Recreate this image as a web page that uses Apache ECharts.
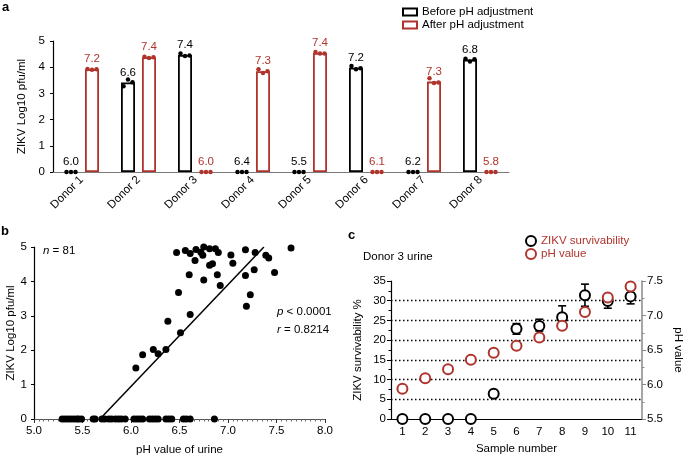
<!DOCTYPE html>
<html>
<head>
<meta charset="utf-8">
<script src="https://cdn.jsdelivr.net/npm/echarts@6/dist/echarts.min.js"></script>
<style>
  html, body { margin: 0; padding: 0; background: #fff; }
  #chart { width: 685px; height: 455px; }
</style>
</head>
<body>
<div id="chart"></div>
<script>
  // ---- panel a: virus titre per donor, before / after pH adjustment
  const donors = ['Donor 1', 'Donor 2', 'Donor 3', 'Donor 4', 'Donor 5', 'Donor 6', 'Donor 7', 'Donor 8'];
  const beforeMean = [0, 3.42, 4.47, 0, 0, 3.98, 0, 4.29];
  const afterMean = [3.92, 4.38, 0, 3.85, 4.54, 0, 3.45, 0];
  const beforeRep1 = [0, 3.27, 4.52, 0, 0, 4.05, 0, 4.32];
  const beforeRep2 = [0, 3.53, 4.43, 0, 0, 3.92, 0, 4.22];
  const beforeRep3 = [0, 3.43, 4.45, 0, 0, 3.96, 0, 4.30];
  const afterRep1 = [3.93, 4.40, 0, 3.92, 4.58, 0, 3.58, 0];
  const afterRep2 = [3.90, 4.35, 0, 3.78, 4.52, 0, 3.40, 0];
  const afterRep3 = [3.92, 4.38, 0, 3.85, 4.52, 0, 3.42, 0];
  const beforePH = ['6.0', '6.6', '7.4', '6.4', '5.5', '7.2', '6.2', '6.8'];
  const afterPH = ['7.2', '7.4', '6.0', '7.3', '7.4', '6.1', '7.3', '5.8'];

  // ---- panel b: titre vs urine pH (n = 81)
  const urinePH = [
    6.05, 6.12, 6.23, 6.28, 6.36, 6.38, 6.51, 6.61, 6.49, 6.47,
    6.56, 6.61, 6.60, 6.66, 6.67, 6.72, 6.74, 6.75, 6.75, 6.81,
    6.81, 6.84, 6.87, 6.90, 6.89, 6.92, 7.03, 7.05, 7.18, 7.18,
    7.19, 7.23, 7.27, 7.28, 7.39, 7.42, 7.48, 7.65,
    5.29, 5.32, 5.35, 5.38, 5.41, 5.44, 5.46, 5.49,
    5.61, 5.63, 5.70, 5.73, 5.77, 5.80, 5.84, 5.87, 5.90, 5.94,
    6.03, 6.06, 6.09, 6.12, 6.19, 6.22, 6.25, 6.28,
    6.36, 6.39, 6.42, 6.54, 6.57, 6.61, 6.86
  ];
  const urineTitre = [
    1.48, 1.87, 2.02, 1.90, 2.02, 2.84, 2.51, 3.04, 3.68, 4.84,
    4.90, 4.81, 4.19, 4.61, 4.93, 4.85, 4.76, 5.00, 4.04, 4.95,
    4.47, 4.51, 4.95, 4.84, 4.19, 3.88, 4.77, 4.53, 4.92, 4.17,
    3.28, 3.61, 4.34, 4.84, 4.76, 4.68, 4.26, 4.97,
    0, 0, 0, 0, 0, 0, 0, 0,
    0, 0, 0, 0, 0, 0, 0, 0, 0, 0,
    0, 0, 0, 0, 0, 0, 0, 0,
    0, 0, 0, 0, 0, 0, 0
  ];
  const fitPH = [5.68, 7.37];
  const fitTitre = [0, 5];

  // ---- panel c: donor 3 urine samples
  const samples = ['1', '2', '3', '4', '5', '6', '7', '8', '9', '10', '11'];
  const survival = [0, 0, 0, 0, 6.4, 22.9, 23.6, 25.8, 31.4, 29.9, 31.1];
  const survivalLow = [0, 0, 0, 0, 6.4, 21.5, 22.3, 23.0, 28.6, 28.1, 29.2];
  const survivalHigh = [0, 0, 0, 0, 6.4, 24.2, 25.3, 28.7, 34.2, 30.8, 33.0];
  const samplePH = [5.94, 6.09, 6.22, 6.36, 6.46, 6.56, 6.68, 6.85, 7.05, 7.26, 7.42];

  const RED = '#b0342c';
  const FONT = 'Liberation Sans';
  const FS = 11.5;

  const chart = echarts.init(document.getElementById('chart'));

  // zero bars: keep the label, hide the flat outline
  function zeroBar(vals) {
    return vals.map(v => v === 0 ? { value: 0, itemStyle: { borderWidth: 0 } } : v);
  }

  function repSeries(name, data, color, dx) {
    return {
      name: name,
      type: 'scatter',
      xAxisIndex: 0,
      yAxisIndex: 0,
      data: data,
      symbol: 'circle',
      symbolSize: 4.5,
      symbolOffset: [dx, 0],
      itemStyle: { color: color, opacity: 1 },
      z: 5,
      silent: true
    };
  }

  const axisText = { fontFamily: FONT, fontSize: FS, color: '#000' };

  const option = {
    animation: false,
    textStyle: { fontFamily: FONT },
    grid: [
      { left: 53, top: 41, width: 456, height: 131, outerBoundsMode: 'none' },
      { left: 34, top: 247, width: 291, height: 172, outerBoundsMode: 'none' },
      { left: 391, top: 281, width: 251, height: 138, outerBoundsMode: 'none' }
    ],
    legend: [
      {
        data: ['Before pH adjustment', 'After pH adjustment'],
        orient: 'vertical',
        left: 397, top: 1,
        icon: 'rect',
        itemWidth: 14, itemHeight: 7, itemGap: 1,
        selectedMode: false,
        textStyle: { fontFamily: FONT, fontSize: FS, color: '#000' }
      },
      {
        data: ['ZIKV survivability', 'pH value'],
        orient: 'vertical',
        left: 520, top: 230,
        itemWidth: 10, itemHeight: 10, itemGap: 1,
        selectedMode: false,
        textStyle: { fontFamily: FONT, fontSize: FS, color: RED }
      }
    ],
    xAxis: [
      {
        gridIndex: 0, type: 'category', data: donors,
        axisLine: { lineStyle: { color: '#7a7a7a', width: 1.2 } },
        axisTick: { alignWithLabel: true, length: 3, lineStyle: { color: '#555' } },
        axisLabel: Object.assign({ rotate: 45, margin: 6, interval: 0 }, axisText)
      },
      {
        gridIndex: 1, type: 'value', min: 5, max: 8, interval: 0.5,
        name: 'pH value of urine', nameLocation: 'middle', nameGap: 25,
        nameTextStyle: axisText,
        splitLine: { show: false },
        axisLine: { lineStyle: { color: '#555', width: 1 } },
        axisTick: { length: 4, lineStyle: { color: '#333' } },
        minorTick: { show: true, splitNumber: 10, length: 2.5, lineStyle: { color: '#666' } },
        axisLabel: Object.assign({ margin: 6, formatter: v => v.toFixed(1) }, axisText)
      },
      {
        gridIndex: 2, type: 'category', data: samples,
        name: 'Sample number', nameLocation: 'middle', nameGap: 24,
        nameTextStyle: axisText,
        axisLine: { lineStyle: { color: '#000', width: 1.2 } },
        axisTick: { alignWithLabel: true, length: 4, lineStyle: { color: '#000' } },
        axisLabel: Object.assign({ margin: 7, interval: 0 }, axisText)
      }
    ],
    yAxis: [
      {
        gridIndex: 0, type: 'value', min: 0, max: 5, interval: 1,
        name: 'ZIKV Log10 pfu/ml', nameLocation: 'middle', nameGap: 24,
        nameTextStyle: axisText,
        splitLine: { show: false },
        axisLine: { show: true, lineStyle: { color: '#000', width: 1.2 } },
        axisTick: { show: true, length: 3, lineStyle: { color: '#000' } },
        axisLabel: Object.assign({ margin: 8 }, axisText)
      },
      {
        gridIndex: 1, type: 'value', min: 0, max: 5, interval: 1,
        name: 'ZIKV Log10 pfu/ml', nameLocation: 'middle', nameGap: 17,
        nameTextStyle: axisText,
        splitLine: { show: false },
        axisLine: { show: true, lineStyle: { color: '#000', width: 1.2 } },
        axisTick: { show: true, length: 3, lineStyle: { color: '#000' } },
        axisLabel: Object.assign({ margin: 7 }, axisText)
      },
      {
        gridIndex: 2, type: 'value', min: 0, max: 35, interval: 5,
        name: 'ZIKV survivability %', nameLocation: 'middle', nameGap: 27, nameRotate: 90,
        nameTextStyle: axisText,
        splitLine: { show: true, showMinLine: false, showMaxLine: false, lineStyle: { color: '#000', type: [1.5, 2.5], width: 1.4 } },
        axisLine: { show: true, lineStyle: { color: '#000', width: 1.2 } },
        axisTick: { show: true, length: 4, lineStyle: { color: '#000' } },
        minorTick: { show: true, splitNumber: 2, length: 2.5, lineStyle: { color: '#000' } },
        axisLabel: Object.assign({ margin: 5 }, axisText)
      },
      {
        gridIndex: 2, type: 'value', position: 'right', min: 5.5, max: 7.5, interval: 0.5,
        name: 'pH value', nameLocation: 'middle', nameGap: 30, nameRotate: -90,
        nameTextStyle: axisText,
        splitLine: { show: false },
        axisLine: { show: true, lineStyle: { color: '#888', width: 1.5 } },
        axisTick: { show: true, length: 4, lineStyle: { color: '#888' } },
        minorTick: { show: true, splitNumber: 2, length: 2.5, lineStyle: { color: '#888' } },
        axisLabel: Object.assign({ margin: 5, formatter: v => v.toFixed(1) }, axisText)
      }
    ],
    series: [
      {
        name: 'Before pH adjustment', type: 'bar', xAxisIndex: 0, yAxisIndex: 0,
        data: zeroBar(beforeMean), barWidth: 14, barGap: '50%',
        itemStyle: { color: '#fff', borderColor: '#000', borderWidth: 1.8 },
        label: { show: true, position: 'top', distance: 4, formatter: p => beforePH[p.dataIndex], fontFamily: FONT, fontSize: FS, color: '#000' }
      },
      {
        name: 'After pH adjustment', type: 'bar', xAxisIndex: 0, yAxisIndex: 0,
        data: zeroBar(afterMean), barWidth: 14, barGap: '50%',
        itemStyle: { color: '#fff', borderColor: RED, borderWidth: 1.8 },
        label: { show: true, position: 'top', distance: 4, formatter: p => afterPH[p.dataIndex], fontFamily: FONT, fontSize: FS, color: RED }
      },
      repSeries('b1', beforeRep1, '#000', -15),
      repSeries('b2', beforeRep2, '#000', -10.5),
      repSeries('b3', beforeRep3, '#000', -6),
      repSeries('a1', afterRep1, RED, 6),
      repSeries('a2', afterRep2, RED, 10.5),
      repSeries('a3', afterRep3, RED, 15),
      {
        name: 'titre', type: 'scatter', xAxisIndex: 1, yAxisIndex: 1,
        data: urinePH.map((x, i) => [x, urineTitre[i]]),
        symbolSize: 7, itemStyle: { color: '#000', opacity: 1 }, z: 4
      },
      {
        name: 'fit', type: 'line', xAxisIndex: 1, yAxisIndex: 1,
        data: fitPH.map((x, i) => [x, fitTitre[i]]),
        showSymbol: false, lineStyle: { color: '#000', width: 1.5 }, z: 3
      },
      {
        name: 'errors', type: 'custom', xAxisIndex: 2, yAxisIndex: 2,
        data: samples.map((s, i) => [i, survivalLow[i], survivalHigh[i]]).filter(d => d[2] > d[1]),
        renderItem: function (params, api) {
          const lo = api.coord([api.value(0), api.value(1)]);
          const hi = api.coord([api.value(0), api.value(2)]);
          const w = 4;
          const st = { stroke: '#000', lineWidth: 1.6 };
          return {
            type: 'group',
            children: [
              { type: 'line', shape: { x1: lo[0], y1: lo[1], x2: hi[0], y2: hi[1] }, style: st },
              { type: 'line', shape: { x1: hi[0] - w, y1: hi[1], x2: hi[0] + w, y2: hi[1] }, style: st },
              { type: 'line', shape: { x1: lo[0] - w, y1: lo[1], x2: lo[0] + w, y2: lo[1] }, style: st }
            ]
          };
        },
        z: 3
      },
      {
        name: 'ZIKV survivability', type: 'scatter', xAxisIndex: 2, yAxisIndex: 2,
        data: survival, symbol: 'circle', symbolSize: 10,
        itemStyle: { color: '#fff', borderColor: '#000', borderWidth: 2, opacity: 1 }, z: 4
      },
      {
        name: 'pH value', type: 'scatter', xAxisIndex: 2, yAxisIndex: 3,
        data: samplePH, symbol: 'circle', symbolSize: 10,
        itemStyle: { color: '#fff', borderColor: RED, borderWidth: 2, opacity: 1 }, z: 5
      }
    ],
    graphic: [
      { type: 'text', left: 2, top: 1, style: { text: 'a', font: 'bold 13px ' + FONT, fill: '#000' } },
      { type: 'text', left: 1, top: 225, style: { text: 'b', font: 'bold 13px ' + FONT, fill: '#000' } },
      { type: 'text', left: 348, top: 229, style: { text: 'c', font: 'bold 13px ' + FONT, fill: '#000' } },
      {
        type: 'text', left: 43, top: 245,
        style: { text: '{i|n} = 81', fontFamily: FONT, fontSize: FS, fill: '#000', rich: { i: { fontStyle: 'italic', fontFamily: FONT, fontSize: FS } } }
      },
      {
        type: 'text', left: 277, top: 306,
        style: { text: '{i|p} < 0.0001', fontFamily: FONT, fontSize: FS, fill: '#000', rich: { i: { fontStyle: 'italic', fontFamily: FONT, fontSize: FS } } }
      },
      {
        type: 'text', left: 277, top: 324,
        style: { text: '{i|r} = 0.8214', fontFamily: FONT, fontSize: FS, fill: '#000', rich: { i: { fontStyle: 'italic', fontFamily: FONT, fontSize: FS } } }
      },
      { type: 'text', left: 363, top: 251, style: { text: 'Donor 3 urine', fontFamily: FONT, fontSize: FS, fill: '#000' } }
    ]
  };

  chart.setOption(option);
</script>
</body>
</html>
